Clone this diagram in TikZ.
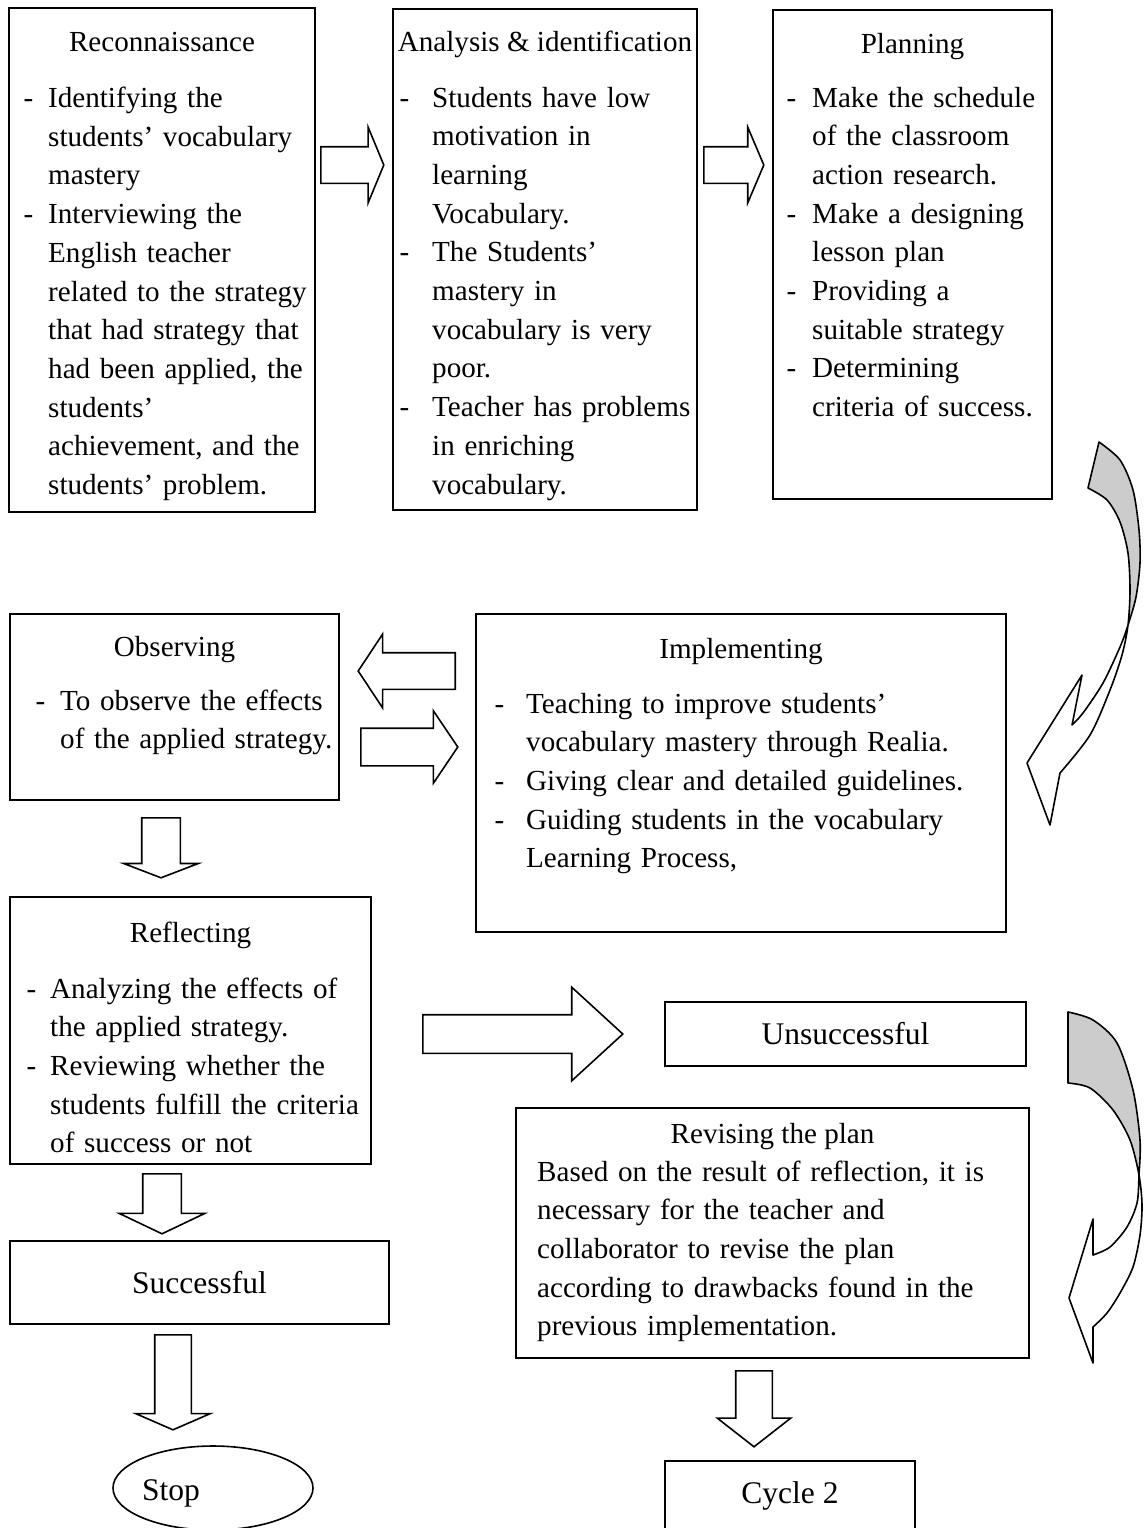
\documentclass[tikz,border=0pt]{standalone}
\usepackage{fontspec}
\setmainfont{Liberation Serif}
\usetikzlibrary{shapes.geometric,shapes.arrows,positioning,calc}

\newcommand{\bodyfont}{\fontsize{29.1pt}{38.7pt}\selectfont}
\newcommand{\bigfont}{\fontsize{31.5pt}{38pt}\selectfont}
\newcommand{\itemdash}[1][15pt]{\leavevmode\llap{-\hspace{#1}}\ignorespaces}

\begin{document}
\begin{tikzpicture}[x=1pt,y=-1pt,
box/.style={draw, line width=1.6pt, inner sep=0pt},
boxtitle/.style={anchor=base, inner sep=0pt, font=\bodyfont},
boxbody/.style={anchor=base west, inner sep=0pt, align=left, text width=480pt, font=\bodyfont},
endbox/.style={box, font=\bigfont},
blockarrow/.style n args={4}{single arrow, draw, line width=1.6pt, fill=white,
  anchor=tail, inner xsep=0pt, inner ysep=#2/2, minimum height=#1, minimum width=0pt,
  single arrow head extend=#3, single arrow tip angle=#4},
curvefill/.style={fill=black!20},
curveline/.style={draw, line width=1.6pt, line join=round},
curveone/.style={insert path={plot[smooth] coordinates {(1099,442) (1120,460) (1133,490)
  (1139,530) (1140,563) (1136,597) (1128,625) (1120,647) (1103,683) (1083,713) (1072,725)}
  -- (1082,675) -- (1027,763) -- (1050,825) -- (1060,773)
  -- plot[smooth] coordinates {(1060,773) (1090,735) (1110,690) (1122,655) (1128,625)
  (1130,590) (1128,553) (1120,522) (1107,500) (1088,488)} -- cycle}},
curvetwo/.style={insert path={plot[smooth] coordinates {(1068,1012) (1093,1020) (1117,1043)
  (1133,1090) (1140,1140) (1139,1175) (1137,1203) (1127,1227) (1110,1247) (1093,1255)}
  -- (1093,1219) -- (1069,1298) -- (1093,1363) -- (1093,1327)
  -- plot[smooth] coordinates {(1093,1327) (1107,1313) (1120,1293) (1133,1267) (1140,1235)
  (1142,1205) (1139,1175) (1130,1140) (1113,1110) (1090,1088) (1068,1083)} -- cycle}}]

\useasboundingbox (0,0) rectangle (1143,1528);
\clip (0,0) rectangle (1143,1528);

%first row
\node[box, minimum width=306pt, minimum height=504pt] (recon) at (162,260) {};
\node[boxtitle] (recont) at (162,52) {Reconnaissance};
\node[boxbody] (reconb) at (48,107.5)
{\itemdash Identifying the\\ students’ vocabulary\\ mastery\\
\itemdash Interviewing the\\ English teacher\\ related to the strategy\\
that had strategy that\\ had been applied, the\\ students’\\
achievement, and the\\ students’ problem.};

\node[box, minimum width=304pt, minimum height=501pt] (anal) at (545,259.5) {};
\node[boxtitle] (analt) at (545,52) {Analysis \& identification};
\node[boxbody] (analb) at (432,107)
{\itemdash[23pt] Students have low\\ motivation in\\ learning\\ Vocabulary.\\
\itemdash[23pt] The Students’\\ mastery in\\ vocabulary is very\\ poor.\\
\itemdash[23pt] Teacher has problems\\ in enriching\\ vocabulary.};

\node[box, minimum width=279pt, minimum height=489pt] (plan) at (912.5,254.5) {};
\node[boxtitle] (plant) at (912.5,53) {Planning};
\node[boxbody] (planb) at (812,107)
{\itemdash[16pt] Make the schedule\\ of the classroom\\ action research.\\
\itemdash[16pt] Make a designing\\ lesson plan\\
\itemdash[16pt] Providing a\\ suitable strategy\\
\itemdash[16pt] Determining\\ criteria of success.};

%second row
\node[box, minimum width=329pt, minimum height=186pt] (obs) at (174.5,707) {};
\node[boxtitle] (obst) at (174.5,656) {Observing};
\node[boxbody] (obsb) at (60,710)
{\itemdash To observe the effects\\ of the applied strategy.};

\node[box, minimum width=530pt, minimum height=318pt] (impl) at (741,773) {};
\node[boxtitle] (implt) at (741,658) {Implementing};
\node[boxbody] (implb) at (526,713)
{\itemdash[22pt] Teaching to improve students’\\ vocabulary mastery through Realia.\\
\itemdash[22pt] Giving clear and detailed guidelines.\\
\itemdash[22pt] Guiding students in the vocabulary\\ Learning Process,};

%third row
\node[box, minimum width=361pt, minimum height=267pt] (refl) at (190.5,1030.5) {};
\node[boxtitle] (reflt) at (190.5,942) {Reflecting};
\node[boxbody] (reflb) at (50,998)
{\itemdash[14pt] Analyzing the effects of\\ the applied strategy.\\
\itemdash[14pt] Reviewing whether the\\ students fulfill the criteria\\ of success or not};

\node[endbox, minimum width=361pt, minimum height=64pt] (unsucc) at (845.5,1034) {Unsuccessful};

\node[box, minimum width=513pt, minimum height=250pt] (rev) at (772.5,1233) {};
\node[boxtitle] (revt) at (772.5,1143) {Revising the plan};
\node[boxbody] (revb) at (537,1181)
{Based on the result of reflection, it is\\ necessary for the teacher and\\
collaborator to revise the plan\\ according to drawbacks found in the\\
previous implementation.};

%end states
\node[endbox, minimum width=379pt, minimum height=83pt] (succ) at (199.5,1282.5) {Successful};
\node[box, ellipse, minimum width=200pt, minimum height=84pt] (stop) at (213,1488) {};
\node[anchor=base, inner sep=0pt, font=\bigfont] (stopt) at (171,1500) {Stop};
\node[endbox, minimum width=250pt, minimum height=70pt] (cycle) at (790,1496) {Cycle 2};

%block arrows
\node[blockarrow={63pt}{35pt}{19.5pt}{135}] (a1) at (320,165) {};
\node[blockarrow={60pt}{35pt}{19.5pt}{134}] (a2) at (703,165) {};
\node[blockarrow={97pt}{35pt}{18.5pt}{113}, rotate=180] (a3) at (456,671) {};
\node[blockarrow={97pt}{36pt}{17.5pt}{112}] (a4) at (360,747) {};
\node[blockarrow={60pt}{37pt}{18pt}{138}, rotate=-90] (a5) at (161,817) {};
\node[blockarrow={60pt}{37pt}{23.5pt}{129}, rotate=-90] (a6) at (162,1173) {};
\node[blockarrow={95pt}{35pt}{19pt}{133}, rotate=-90] (a7) at (173,1334) {};
\node[blockarrow={200pt}{37pt}{27.5pt}{85}] (a8) at (422,1034) {};
\node[blockarrow={76pt}{35pt}{18.5pt}{104}, rotate=-90] (a9) at (754,1370) {};

%curved arrows
\begin{scope}
\clip (1000,400) rectangle (1143,625);
\path[curvefill, curveone];
\end{scope}
\path[curveline, curveone];

\begin{scope}
\clip (1000,1000) rectangle (1143,1175);
\path[curvefill, curvetwo];
\end{scope}
\path[curveline, curvetwo];

\end{tikzpicture}
\end{document}
